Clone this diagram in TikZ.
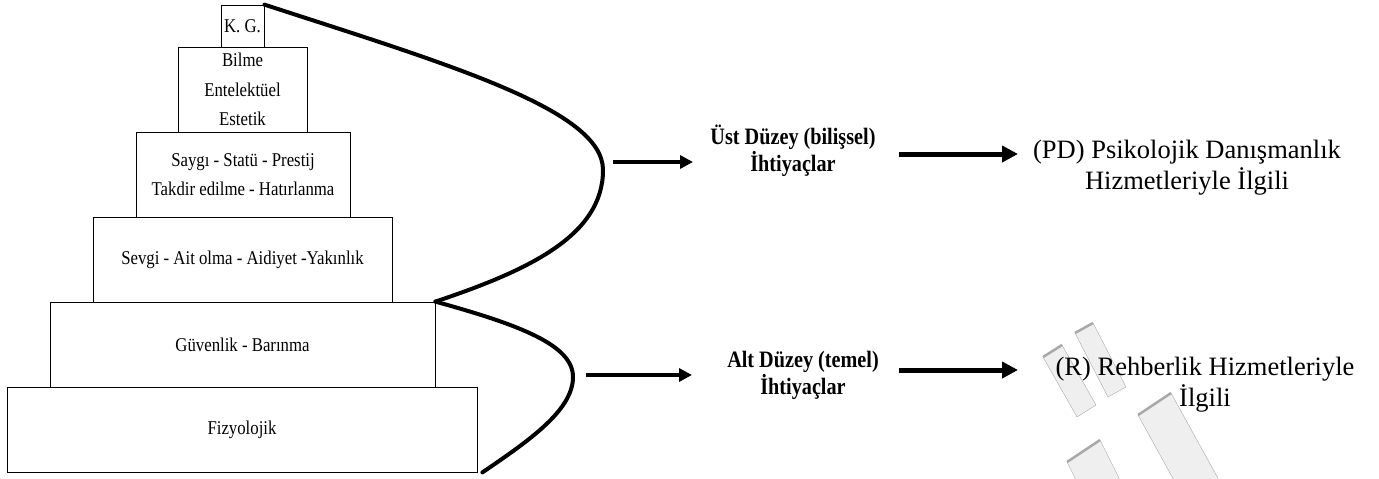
\documentclass[tikz,border=0pt]{standalone}
\usepackage{fontspec}
\setmainfont{Liberation Serif}
\newfontfamily\narrowfont[FakeStretch=0.86]{Liberation Serif}
\usetikzlibrary{arrows.meta}

\definecolor{wmgray}{HTML}{EFEFEF}
\definecolor{wmedge}{HTML}{A8A8A8}

\begin{document}
\begin{tikzpicture}[x=1pt, y=-1pt]
  \tikzstyle{lvl} = [draw, line width=0.8pt, inner sep=0pt, align=center,
  font=\narrowfont\fontsize{19.5}{29.5}\selectfont];
  \tikzstyle{crv} = [line width=4pt, line cap=round];
  \tikzstyle{arw} = [line width=4.5pt, -{Triangle[length=13pt,width=13pt]}];
  \tikzstyle{arwr} = [line width=5pt, -{Triangle[length=16pt,width=16pt]}];
  \tikzstyle{mid} = [align=center, font=\narrowfont\bfseries\fontsize{23.5}{27}\selectfont];
  \tikzstyle{svc} = [align=center, font=\fontsize{26.5}{31}\selectfont];
  \tikzstyle{wm} = [fill=wmgray, draw=wmedge, line width=0.4pt];
  \tikzstyle{wmtop} = [draw=wmedge, line width=2.5pt];

  \clip (0,0) rectangle (1379,479);

  % watermark strips
  \draw[wm] (1043,357) -- (1062,345) -- (1096,405) -- (1077,417) -- cycle;
  \draw[wmtop] (1043,357) -- (1062,345);
  \draw[wm] (1075,333) -- (1093,323) -- (1126,387) -- (1108,397) -- cycle;
  \draw[wmtop] (1075,333) -- (1093,323);
  \draw[wm] (1138,415) -- (1171,393) -- (1230,500) -- (1197,522) -- cycle;
  \draw[wmtop] (1138,415) -- (1171,393);
  \draw[wm] (1067,462) -- (1100,440) -- (1130,500) -- (1097,522) -- cycle;
  \draw[wmtop] (1067,462) -- (1100,440);

  % pyramid
  \node[lvl, minimum width=43pt, minimum height=42pt] (kg) at (242.5,26) {K. G.};
  \node[lvl, minimum width=129pt, minimum height=85pt] (bil) at (242.5,89.5)
    {Bilme\\Entelektüel\\Estetik};
  \node[lvl, minimum width=214pt, minimum height=85pt] (say) at (243,174.5)
    {Saygı - Statü - Prestij\\Takdir edilme - Hatırlanma};
  \node[lvl, minimum width=299pt, minimum height=85pt] (sev) at (242.5,259.5)
    {Sevgi - Ait olma - Aidiyet -Yakınlık};
  \node[lvl, minimum width=385pt, minimum height=85pt] (guv) at (242.5,344.5)
    {Güvenlik - Barınma};
  \node[lvl, minimum width=470pt, minimum height=85pt] (fiz) at (242,429.5)
    {Fizyolojik};

  % braces
  \draw[crv] (kg.north east) .. controls (450,65) and (603,110) .. (603,170)
    .. controls (603,235) and (530,270) .. (guv.north east);
  \draw[crv] (guv.north east) .. controls (520,325) and (573,345) .. (573,377)
    .. controls (573,410) and (530,440) .. ([xshift=5pt]fiz.south east);

  % needs
  \node[mid] (ust) at (793,151) {Üst Düzey (bilişsel)\\İhtiyaçlar};
  \node[mid] (alt) at (803,375) {Alt Düzey (temel)\\İhtiyaçlar};

  \node[svc] (pd) at (1187,168) {(PD) Psikolojik Danışmanlık\\Hizmetleriyle İlgili};
  \node[svc] (reh) at (1205,385) {(R) Rehberlik Hizmetleriyle\\İlgili};

  \coordinate (u1) at (613,162);
  \coordinate (u2) at (693,162);
  \coordinate (a1) at (586,375);
  \coordinate (a2) at (692,375);
  \coordinate (u3) at (899,154);
  \coordinate (u4) at (1018,154);
  \coordinate (a3) at (899,370);
  \coordinate (a4) at (1018,370);

  \draw[arw] (u1) -- (u2);
  \draw[arw] (a1) -- (a2);
  \draw[arwr] (u3) -- (u4);
  \draw[arwr] (a3) -- (a4);
\end{tikzpicture}
\end{document}
